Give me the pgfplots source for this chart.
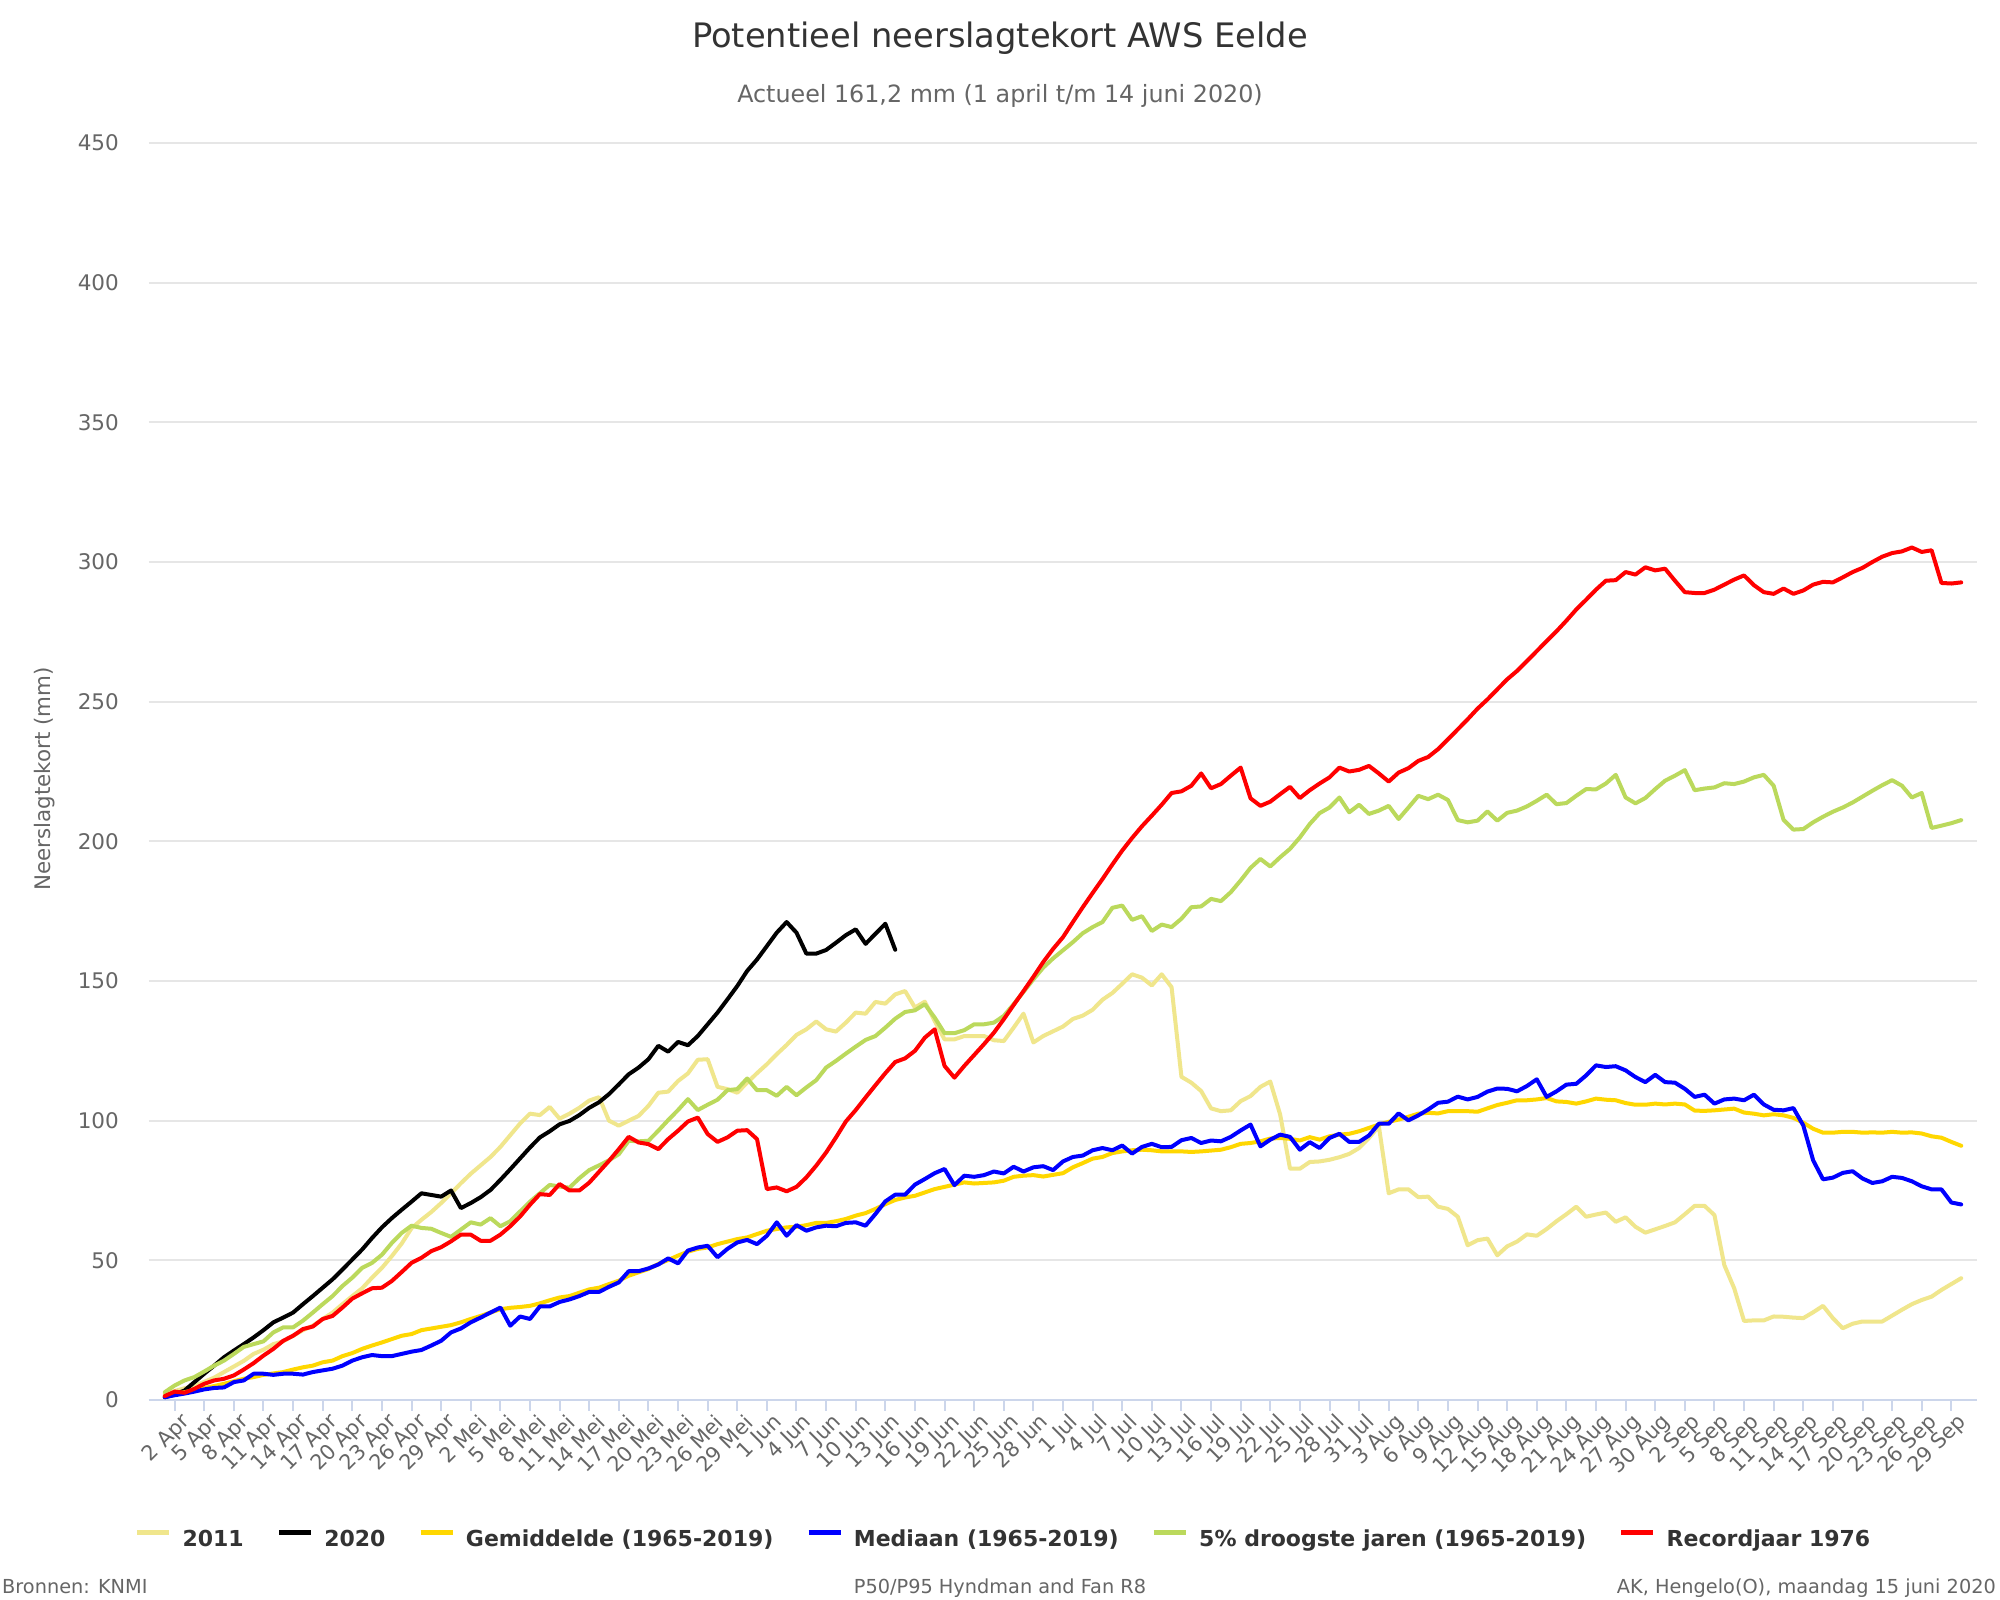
\documentclass[border=0pt]{standalone}
\usepackage{fontspec}
\setmainfont{DejaVu Sans}
\usepackage{pgfplots}
\usepackage{pgfplotstable}
\pgfplotsset{compat=1.18}
\definecolor{c2011}{HTML}{F0E68C}
\definecolor{cgem}{HTML}{FFD700}
\definecolor{cmed}{HTML}{0000FF}
\definecolor{cdry}{HTML}{BBD95C}
\definecolor{crec}{HTML}{FF0000}
\definecolor{gridc}{HTML}{E6E6E6}
\definecolor{axisc}{HTML}{CCD6EB}
\definecolor{txt}{HTML}{333333}
\definecolor{txtb}{HTML}{666666}
\newcommand\fs[1]{\fontsize{#1}{#1}\selectfont}

\pgfplotstableread{
d k g m p r
0 2.3 1.4 1.0 2.8 1.4
1 3.2 2.1 1.7 5.2 3.0
2 4.2 2.8 2.3 7.0 2.6
3 5.0 3.5 3.0 8.2 4.0
4 6.5 4.3 3.8 10.2 5.8
5 8.0 5.0 4.3 12.3 7.0
6 10.0 5.8 4.5 14.1 7.6
7 12.0 6.7 6.4 16.5 8.8
8 14.0 7.6 7.0 19.0 10.9
9 16.5 8.2 9.4 20.0 13.2
10 18.0 9.0 9.4 21.0 15.9
11 20.0 9.5 9.0 24.2 18.3
12 21.0 10.0 9.4 26.0 21.2
13 23.0 10.9 9.4 26.0 23.0
14 25.0 11.7 9.1 28.4 25.4
15 26.6 12.3 10.0 31.3 26.3
16 29.0 13.5 10.6 34.3 29.0
17 31.3 14.1 11.2 37.2 30.1
18 34.3 15.7 12.3 40.8 33.1
19 37.2 16.8 14.1 43.8 36.3
20 40.0 18.3 15.3 47.3 38.2
21 43.8 19.5 16.1 49.1 40.0
22 47.3 20.6 15.7 52.0 40.2
23 51.5 21.8 15.7 56.2 42.6
24 56.0 23.0 16.5 59.8 45.8
25 61.5 23.6 17.3 62.4 49.1
26 64.5 25.0 17.9 61.6 50.9
27 67.3 25.6 19.5 61.3 53.3
28 70.5 26.2 21.2 59.8 54.7
29 74.0 26.8 24.2 58.4 56.8
30 77.6 27.8 25.6 61.0 59.2
31 81.0 29.0 27.8 63.6 59.2
32 84.0 30.1 29.5 62.8 57.0
33 87.0 31.3 31.3 65.1 57.0
34 90.6 32.5 33.1 62.2 59.2
35 94.8 33.0 26.6 64.0 62.2
36 99.0 33.3 29.9 67.5 65.7
37 102.5 33.7 29.0 71.0 69.9
38 102.0 34.6 33.5 74.0 73.7
39 104.9 35.7 33.5 77.0 73.4
40 100.7 36.7 35.1 76.4 77.3
41 102.5 37.2 36.0 76.0 75.0
42 104.6 38.4 37.2 79.4 75.0
43 107.2 39.6 38.7 82.3 77.8
44 108.4 40.2 38.7 84.0 81.7
45 100.0 41.5 40.5 85.8 85.6
46 98.2 42.7 42.1 88.0 89.8
47 100.0 44.5 46.1 92.8 94.2
48 101.7 45.7 46.1 92.6 92.2
49 105.3 46.9 47.1 92.8 91.6
50 110.0 48.7 48.5 96.4 89.8
51 110.4 50.1 50.7 100.2 93.4
52 114.2 51.7 48.9 103.8 96.4
53 116.9 53.1 53.5 107.7 99.7
54 121.8 54.1 54.6 103.8 101.1
55 122.0 54.6 55.2 105.7 95.2
56 112.1 55.8 51.1 107.5 92.4
57 111.3 56.7 54.1 110.9 94.0
58 110.0 57.6 56.4 111.3 96.4
59 113.6 58.2 57.3 115.1 96.6
60 117.0 59.4 55.8 110.9 93.4
61 120.2 60.6 58.8 110.9 75.5
62 123.8 61.2 63.6 108.9 76.1
63 127.1 61.8 58.8 112.1 74.7
64 130.7 62.0 62.6 109.1 76.3
65 132.7 62.6 60.6 111.9 79.7
66 135.5 63.4 61.8 114.5 83.9
67 132.7 63.4 62.4 119.0 88.6
68 131.9 64.0 62.2 121.4 94.0
69 135.1 64.8 63.4 124.0 99.7
70 138.7 66.0 63.6 126.5 103.8
71 138.3 66.9 62.4 128.9 108.3
72 142.5 68.4 66.6 130.3 112.7
73 141.9 70.1 71.1 133.3 117.0
74 145.2 71.6 73.5 136.5 121.0
75 146.4 72.5 73.5 138.9 122.3
76 140.5 73.1 77.1 139.5 125.0
77 142.6 74.3 79.1 141.7 129.7
78 135.7 75.5 81.2 136.9 132.7
79 129.1 76.3 82.7 131.3 119.6
80 129.1 77.1 76.9 131.3 115.4
81 130.3 77.9 80.3 132.4 119.6
82 130.3 77.5 79.9 134.5 123.5
83 130.3 77.7 80.5 134.5 127.4
84 128.8 77.9 81.8 135.1 131.5
85 128.5 78.5 81.1 137.5 136.3
86 133.3 79.9 83.5 141.7 141.4
87 138.3 80.3 81.8 146.1 146.4
88 128.0 80.5 83.3 150.6 151.5
89 130.3 80.0 83.7 154.8 156.8
90 132.0 80.6 82.3 158.1 161.5
91 133.7 81.2 85.4 161.0 165.7
92 136.4 83.3 87.0 163.9 171.1
93 137.6 84.8 87.5 167.1 176.4
94 139.7 86.4 89.4 169.3 181.5
95 143.3 87.0 90.2 171.1 186.5
96 145.7 88.4 89.4 176.2 191.7
97 149.0 89.0 91.1 177.0 196.7
98 152.4 89.4 88.2 171.9 201.2
99 151.2 89.6 90.6 173.2 205.4
100 148.4 89.4 91.7 167.9 209.2
101 152.4 89.0 90.5 170.2 213.1
102 147.8 89.0 90.6 169.3 217.3
103 115.7 89.0 93.0 172.3 217.9
104 113.6 88.8 93.8 176.4 219.9
105 110.6 89.0 92.0 176.7 224.3
106 104.4 89.3 92.9 179.4 219.0
107 103.4 89.6 92.6 178.6 220.5
108 103.7 90.5 94.2 181.8 223.5
109 107.0 91.7 96.5 186.0 226.4
110 108.8 92.0 98.6 190.5 215.4
111 112.1 92.6 90.8 193.7 212.7
112 114.0 93.6 93.2 191.0 214.2
113 102.2 93.8 95.0 194.3 216.9
114 82.8 93.5 94.2 197.3 219.5
115 82.8 92.9 89.6 201.4 215.5
116 85.2 94.1 92.3 206.2 218.3
117 85.4 93.2 90.2 210.1 220.7
118 86.0 94.4 93.8 212.1 222.9
119 86.9 95.0 95.3 215.7 226.4
120 88.1 95.3 92.4 210.4 225.0
121 90.2 96.2 92.4 213.1 225.6
122 93.8 97.4 94.7 209.8 227.0
123 98.0 98.6 98.9 211.0 224.3
124 74.0 99.6 98.9 212.7 221.4
125 75.4 100.4 102.6 208.0 224.6
126 75.4 101.4 100.1 212.1 226.2
127 72.6 102.5 101.9 216.3 228.8
128 72.8 102.8 104.0 215.1 230.2
129 69.2 102.6 106.4 216.7 233.0
130 68.4 103.4 106.8 214.8 236.5
131 65.6 103.4 108.6 207.6 240.1
132 55.4 103.4 107.6 206.8 243.7
133 57.2 103.2 108.5 207.4 247.5
134 57.8 104.4 110.4 210.7 250.8
135 51.8 105.6 111.5 207.4 254.4
136 55.0 106.4 111.4 210.2 258.0
137 56.7 107.3 110.5 211.0 261.0
138 59.3 107.3 112.4 212.5 264.5
139 58.8 107.6 114.8 214.5 268.1
140 61.2 108.1 108.5 216.7 271.7
141 64.0 106.9 110.5 213.3 275.2
142 66.5 106.7 112.9 213.7 279.0
143 69.2 106.1 113.2 216.3 283.0
144 65.6 106.9 116.2 218.7 286.5
145 66.4 107.9 119.8 218.6 290.1
146 67.1 107.5 119.2 220.7 293.3
147 63.8 107.3 119.5 223.8 293.5
148 65.4 106.3 118.0 215.7 296.4
149 62.0 105.7 115.6 213.6 295.5
150 59.9 105.7 113.8 215.5 298.1
151 61.1 106.1 116.4 218.7 297.0
152 62.3 105.8 113.8 221.7 297.6
153 63.6 106.1 113.6 223.5 293.3
154 66.5 105.8 111.4 225.5 289.2
155 69.5 103.6 108.5 218.3 288.9
156 69.5 103.5 109.3 218.9 288.9
157 66.2 103.7 106.1 219.3 290.1
158 48.3 104.0 107.6 220.8 291.9
159 40.0 104.3 107.9 220.5 293.7
160 28.3 102.9 107.3 221.4 295.2
161 28.5 102.5 109.3 222.9 291.7
162 28.5 101.9 105.8 223.8 289.2
163 29.9 102.3 103.9 219.9 288.6
164 29.8 101.9 103.7 207.7 290.5
165 29.5 101.0 104.5 204.2 288.6
166 29.3 99.3 98.3 204.4 289.8
167 31.4 97.1 85.8 206.8 291.9
168 33.7 95.7 79.0 208.8 292.9
169 29.3 95.7 79.6 210.6 292.7
170 25.7 96.0 81.3 212.1 294.5
171 27.3 96.0 81.9 213.9 296.4
172 28.1 95.7 79.3 216.0 297.9
173 28.1 95.8 77.7 218.1 300.0
174 28.1 95.7 78.3 220.1 301.9
175 30.2 96.0 79.9 221.9 303.2
176 32.3 95.7 79.5 219.9 303.8
177 34.3 95.8 78.3 215.7 305.2
178 35.8 95.4 76.5 217.3 303.6
179 37.0 94.4 75.4 204.8 304.2
180 39.4 93.9 75.4 205.6 292.5
181 41.5 92.4 70.7 206.5 292.3
182 43.6 91.0 70.0 207.6 292.7
}\dataA

\pgfplotstableread{
d b
0 1.0
1 2.0
2 3.4
3 6.4
4 9.4
5 12.3
6 15.3
7 17.7
8 20.0
9 22.4
10 25.0
11 27.8
12 29.5
13 31.3
14 34.3
15 37.2
16 40.2
17 43.2
18 46.7
19 50.3
20 53.9
21 58.0
22 61.8
23 65.1
24 68.1
25 71.0
26 74.0
27 73.4
28 72.8
29 75.0
30 68.7
31 70.5
32 72.6
33 75.2
34 78.8
35 82.6
36 86.5
37 90.4
38 94.0
39 96.2
40 98.7
41 99.9
42 102.0
43 104.6
44 106.6
45 109.5
46 113.0
47 116.6
48 119.0
49 122.0
50 126.8
51 124.7
52 128.2
53 127.0
54 130.3
55 134.5
56 138.7
57 143.4
58 148.2
59 153.6
60 157.7
61 162.5
62 167.3
63 171.1
64 167.3
65 159.8
66 159.8
67 161.1
68 163.7
69 166.4
70 168.5
71 163.3
72 166.9
73 170.5
74 161.2
}\dataB

\begin{document}
\begin{tikzpicture}
\path[use as bounding box, fill=white] (0pt,0pt) rectangle (2000pt,1600pt);
\begin{axis}[
  at={(149pt,200pt)}, anchor=south west,
  scale only axis, width=1828pt, height=1257pt,
  xmin=-1.6, xmax=183.6, ymin=0, ymax=450,
  axis x line*=bottom, axis y line*=left,
  x axis line style={draw=axisc, line width=2pt},
  y axis line style={draw=none},
  ymajorgrids=true,
  major grid style={draw=gridc, line width=2pt},
  ytick={0,50,...,450},
  xtick={1,4,...,181},
  xticklabels={2 Apr,5 Apr,8 Apr,11 Apr,14 Apr,17 Apr,20 Apr,23 Apr,26 Apr,29 Apr,2 Mei,5 Mei,8 Mei,11 Mei,14 Mei,17 Mei,20 Mei,23 Mei,26 Mei,29 Mei,1 Jun,4 Jun,7 Jun,10 Jun,13 Jun,16 Jun,19 Jun,22 Jun,25 Jun,28 Jun,1 Jul,4 Jul,7 Jul,10 Jul,13 Jul,16 Jul,19 Jul,22 Jul,25 Jul,28 Jul,31 Jul,3 Aug,6 Aug,9 Aug,12 Aug,15 Aug,18 Aug,21 Aug,24 Aug,27 Aug,30 Aug,2 Sep,5 Sep,8 Sep,11 Sep,14 Sep,17 Sep,20 Sep,23 Sep,26 Sep,29 Sep},
  tick align=outside,
  major tick length=11pt,
  xtick style={draw=axisc, line width=2pt},
  ytick style={draw=none},
  /pgf/number format/assume math mode=true,
  yticklabel style={font={\fs{21.5}}, text=txtb, anchor=east, inner sep=0pt, xshift=-19pt},
  xticklabel style={font={\fs{20.8}}, text=txtb, rotate=45, anchor=east, inner sep=0pt, yshift=-14pt, xshift=3pt},
  ylabel={Neerslagtekort (mm)},
  ylabel style={at={(axis description cs:-0.0569,0.494)}, anchor=center, font={\fs{21.4}}, text=txtb},
  legend columns=6,
  legend cell align=left,
  legend image code/.code={\draw[#1, line width=4.5pt, line cap=butt] (0pt,7pt) -- (32pt,7pt);},
  legend style={at={(axis description cs:0.467,-0.1108)}, anchor=center, draw=none, fill=none,
    font={\fs{22}\bfseries}, text=txt, nodes={inner sep=0pt},
    /tikz/every odd column/.append style={column sep=11pt},
    /tikz/every even column/.append style={column sep=33pt}},
  every axis plot/.append style={line width=4pt, line join=round, line cap=round},
]
\addplot[c2011] table[x=d, y=k] {\dataA};
\addlegendentry{2011}
\addplot[black] table[x=d, y=b] {\dataB};
\addlegendentry{2020}
\addplot[cgem] table[x=d, y=g] {\dataA};
\addlegendentry{Gemiddelde (1965-2019)}
\addplot[cmed] table[x=d, y=m] {\dataA};
\addlegendentry{Mediaan (1965-2019)}
\addplot[cdry] table[x=d, y=p] {\dataA};
\addlegendentry{5\% droogste jaren (1965-2019)}
\addplot[crec] table[x=d, y=r] {\dataA};
\addlegendentry{Recordjaar 1976}
\end{axis}
\node[anchor=base, font={\fs{33.7}}, text=txt] at (1000pt,1552pt) {Potentieel neerslagtekort AWS Eelde};
\node[anchor=base, font={\fs{23.8}}, text=txtb] at (1000pt,1497pt) {Actueel 161,2 mm (1 april t/m 14 juni 2020)};
\node[anchor=base west, inner sep=0pt, font={\fs{19.3}}, text=txtb] at (2pt,6pt) {Bronnen: KNMI};
\node[anchor=base, inner sep=0pt, font={\fs{19.3}}, text=txtb] at (1000pt,6pt) {P50/P95 Hyndman and Fan R8};
\node[anchor=base east, inner sep=0pt, font={\fs{19.3}}, text=txtb] at (1996pt,6pt) {AK, Hengelo(O), maandag 15 juni 2020};
\end{tikzpicture}
\end{document}
